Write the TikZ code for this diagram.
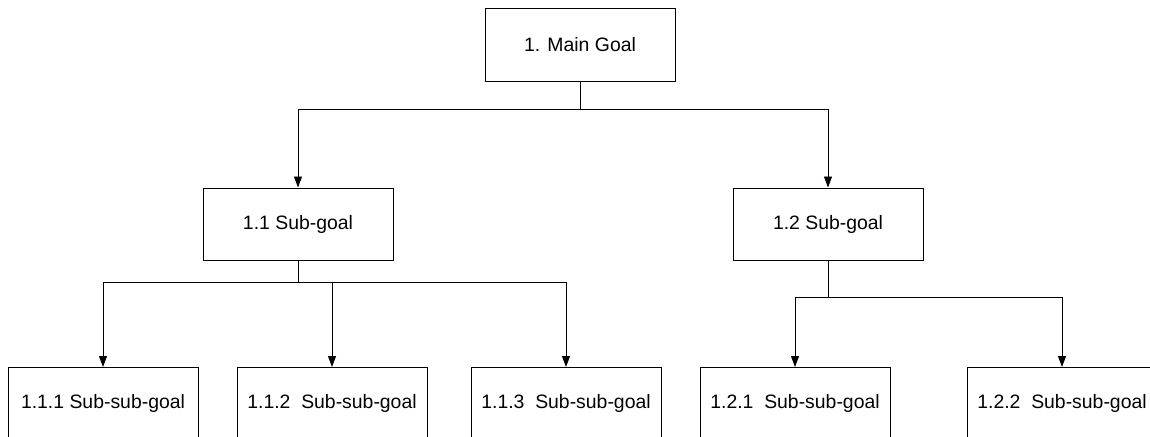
\documentclass[tikz,border=0pt]{standalone}
\usepackage{fontspec}
\setmainfont{Liberation Sans}
\usetikzlibrary{arrows.meta}
\tikzset{
  goalbox/.style={draw=black, line width=1pt, fill=white, minimum width=190pt, minimum height=72pt, inner sep=0pt, font=\fontsize{19.4}{23}\selectfont},
  conn/.style={draw=black, line width=0.9pt},
  arr/.style={conn, -{Triangle[length=11pt, width=8pt]}}
}
\begin{document}
\begin{tikzpicture}[x=1pt, y=-1pt]
\useasboundingbox (0,0) rectangle (1150,436);
\clip (0,0) rectangle (1150,436);
% nodes
\node[goalbox] (main) at (580,45) {1. Main Goal};
\node[goalbox] (s11) at (298,224) {1.1 Sub-goal};
\node[goalbox] (s12) at (828,224) {1.2 Sub-goal};
\node[goalbox, anchor=north] (s111) at (103,367) {1.1.1 Sub-sub-goal};
\node[goalbox, anchor=north] (s112) at (332,367) {1.1.2\ \ Sub-sub-goal};
\node[goalbox, anchor=north] (s113) at (566,367) {1.1.3\ \ Sub-sub-goal};
\node[goalbox, anchor=north] (s121) at (795,367) {1.2.1\ \ Sub-sub-goal};
\node[goalbox, anchor=north] (s122) at (1062,367) {1.2.2\ \ Sub-sub-goal};
% junction coordinates
\coordinate (m0) at (580,109);
\coordinate (mL) at (298,109);
\coordinate (mR) at (828,109);
\coordinate (a0) at (298,282);
\coordinate (aL) at (103,282);
\coordinate (aM) at (332,282);
\coordinate (aR) at (566,282);
\coordinate (b0) at (828,297);
\coordinate (bL) at (795,297);
\coordinate (bR) at (1062,297);
% connectors
\draw[conn] (main.south) -- (m0);
\draw[conn] (mL) -- (mR);
\draw[arr] (mL) -- (s11.north);
\draw[arr] (mR) -- (s12.north);
\draw[conn] (s11.south) -- (a0);
\draw[conn] (aL) -- (aR);
\draw[arr] (aL) -- (s111.north);
\draw[arr] (aM) -- (s112.north);
\draw[arr] (aR) -- (s113.north);
\draw[conn] (s12.south) -- (b0);
\draw[conn] (bL) -- (bR);
\draw[arr] (bL) -- (s121.north);
\draw[arr] (bR) -- (s122.north);
\end{tikzpicture}
\end{document}
